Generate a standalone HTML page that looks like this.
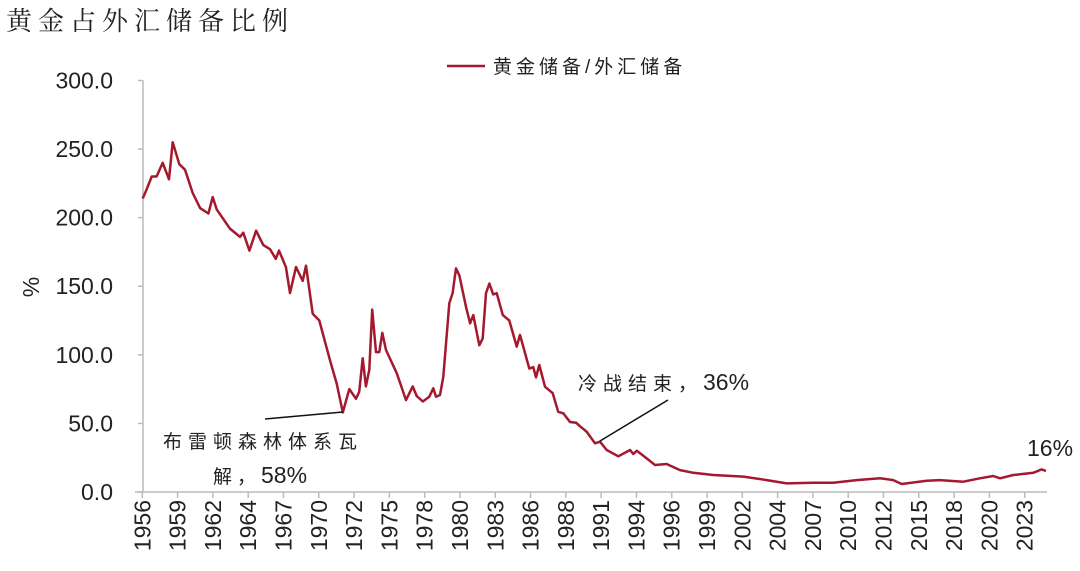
<!DOCTYPE html>
<html><head><meta charset="utf-8"><style>
body{margin:0;background:#fff;}
svg{display:block;font-family:"Liberation Sans","Noto Sans CJK SC",sans-serif;}
</style></head><body>
<svg id="chart" width="1080" height="571" viewBox="0 0 1080 571">
<text x="6" y="30" font-size="26" letter-spacing="6" fill="#222" font-family="'Noto Serif CJK SC','Liberation Serif',serif">黄金占外汇储备比例</text>
<g>
<line x1="447" y1="66" x2="485" y2="66" stroke="#a5192e" stroke-width="2.5"/>
<text x="493" y="73" font-size="19" letter-spacing="4" fill="#222">黄金储备/外汇储备</text>
</g>
<text transform="translate(39,287) rotate(-90)" text-anchor="middle" font-size="23" fill="#222">%</text>
<g id="yaxis"></g>
<g id="xaxis"></g>
<path id="series" fill="none" stroke="#a5192e" stroke-width="2.5" stroke-linejoin="round"/>
<g>
<line x1="265" y1="419" x2="343" y2="412" stroke="#111" stroke-width="1.5"/>
<text x="163" y="448" font-size="19" letter-spacing="6" fill="#222">布雷顿森林体系瓦</text>
<text x="213" y="483" font-size="19" letter-spacing="5" fill="#222">解，<tspan font-size="23" letter-spacing="0">58%</tspan></text>
<line x1="600" y1="441" x2="668" y2="400" stroke="#111" stroke-width="1.5"/>
<text x="578" y="390" font-size="19" letter-spacing="6" fill="#222">冷战结束，<tspan font-size="23" letter-spacing="0">36%</tspan></text>
<text x="1027" y="456" font-size="23" fill="#222">16%</text>
</g>
</svg>
<script>
const years=[1956.03,1956.33,1956.70,1957.07,1957.52,1957.99,1958.27,1958.76,1959.19,1959.76,1960.31,1960.93,1961.25,1961.55,1962.54,1963.29,1963.54,1963.99,1964.49,1965.03,1965.53,1965.96,1966.20,1966.72,1967.02,1967.47,1967.97,1968.22,1968.72,1969.21,1970.01,1970.51,1970.96,1971.45,1971.95,1972.19,1972.45,1972.69,1972.94,1973.16,1973.44,1973.69,1973.91,1974.19,1974.99,1975.68,1976.18,1976.48,1976.93,1977.42,1977.72,1977.92,1978.22,1978.46,1978.91,1979.16,1979.41,1979.66,1980.16,1980.46,1980.70,1981.15,1981.40,1981.65,1981.90,1982.19,1982.45,1982.90,1983.39,1983.94,1984.19,1984.88,1985.18,1985.38,1985.63,1986.05,1986.63,1987.04,1987.42,1987.92,1988.37,1988.66,1989.16,1989.78,1990.16,1990.66,1991.52,1992.40,1992.64,1992.90,1993.64,1994.26,1995.13,1996.13,1997.12,1998.61,2000.85,2002.60,2004.09,2006.07,2007.57,2009.31,2011.05,2012.04,2012.67,2014.54,2015.53,2017.27,2018.51,2019.51,2020.01,2021.00,2022.49,2023.12,2023.44];
const ratio=[214,220.7,230,230,240,228,255,239,235,218,207,203,215,206,192,186,189,176,190.5,180,177,170,176,164,145,164,154,165,130,125,96,79,58,75,68,73,97.5,77,89,133,102,102,116,103.5,86.5,67,77,70,66,69.5,75.6,69.5,70.7,84,137.6,145,163,158,135,123,129,107,112,145,152,144,145,129,125,106,114.5,90,91,83.6,92.6,76.8,72,58.5,57.4,51,50.5,48,44,35.5,36.7,30.6,26,30.6,27.7,30,24.5,19.7,20.4,16,14,12.4,11.2,8.7,6.3,6.8,6.8,8.7,10,8.7,5.8,8.2,8.7,7.5,10,11.7,10,12.4,14,16.5,15.3];
const yTicks=[0,50,100,150,200,250,300];
const yTickLabels=["0.0","50.0","100.0","150.0","200.0","250.0","300.0"];
const xTickLabels=["1956","1959","1962","1964","1967","1970","1972","1975","1978","1980","1983","1986","1988","1991","1994","1996","1999","2002","2004","2007","2010","2012","2015","2018","2020","2023"];
const NS="http://www.w3.org/2000/svg";
const X0=142.3,PXY=13.4,Y0=492,PXV=1.3717,TICKSTEP=2.634;
const xs=y=>X0+(y-1956)*PXY;
const ys=v=>Y0-v*PXV;
const ya=document.getElementById('yaxis'),xa=document.getElementById('xaxis');
function mk(t,a,p){const e=document.createElementNS(NS,t);for(const k in a)e.setAttribute(k,a[k]);p.appendChild(e);return e;}
const ax=mk('line',{x1:143,y1:ys(300),x2:143,y2:Y0,stroke:'#bbb','stroke-width':1.5},ya);


yTicks.forEach((v,i)=>{
 const t=mk('line',{x1:138,x2:143,y1:ys(v),y2:ys(v),stroke:'#bbb','stroke-width':1.5},ya);
 
 
 const l=mk('text',{x:113,y:ys(v)+8,'text-anchor':'end','font-size':23,fill:'#222'},ya);
 
 
 l.textContent=yTickLabels[i];
});
const xl=mk('line',{x1:135,x2:1047,y1:Y0,y2:Y0,stroke:'#bbb','stroke-width':1.5},xa);


xTickLabels.forEach((s,i)=>{
 const x=xs(1956+i*TICKSTEP);
 const t=mk('line',{x1:x,x2:x,y1:Y0,y2:Y0+6,stroke:'#bbb','stroke-width':1.5},xa);
 
 
 const l=mk('text',{transform:`translate(${x+8},500) rotate(-90)`,'text-anchor':'end','font-size':23,fill:'#222'},xa);
 
 
 l.textContent=s;
});
document.getElementById('series').setAttribute('d',years.map((y,i)=>(i?'L':'M')+xs(y).toFixed(1)+' '+ys(ratio[i]).toFixed(1)).join(' '));
</script>
</body></html>
